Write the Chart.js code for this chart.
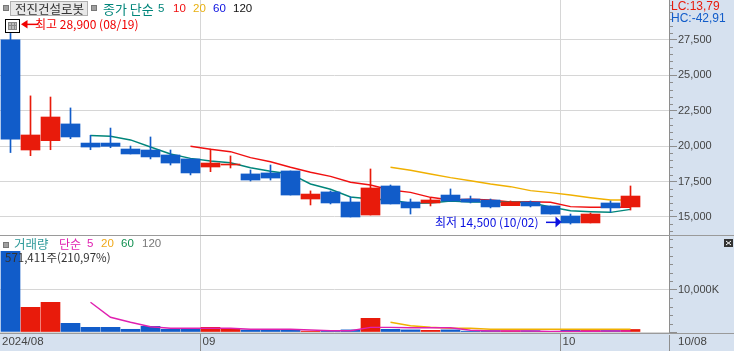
<!DOCTYPE html>
<html lang="ko"><head><meta charset="utf-8">
<style>html,body{margin:0;padding:0;background:#fff;overflow:hidden}canvas{position:absolute;left:0;display:block}</style>
<script src="https://cdn.jsdelivr.net/npm/chart.js@4"></script></head>
<body>
<canvas id="price" width="734" height="236" style="top:0"></canvas>
<canvas id="volume" width="734" height="115" style="top:236px"></canvas>
<script>
const dates=['08/19','08/20','08/21','08/22','08/23','08/26','08/27','08/28','08/29','08/30','09/02','09/03','09/04','09/05','09/06','09/09','09/10','09/11','09/12','09/13','09/19','09/20','09/23','09/24','09/25','09/26','09/27','09/30','10/02','10/04','10/07','10/08'];
const opens =[27500,19730,20390,21570,20220,20220,19800,19730,19380,19100,18530,18670,18040,18110,18250,16270,16770,16060,15140,17190,16060,15990,16550,16270,16200,15800,16060,15780,15070,14580,15990,15710];
const closes=[20500,20790,22060,20650,19940,19990,19450,19240,18810,18110,18810,18740,17610,17750,16550,16620,15990,15000,17050,15920,15640,16200,16130,16060,15710,16060,15780,15210,14580,15210,15640,16480];
const highs =[28900,23550,23470,22700,20770,21280,20010,20650,19730,19100,19800,19310,18320,18670,18250,16840,16840,16410,18390,17260,16270,16340,16980,16480,16270,16130,16130,15780,15210,15280,16130,17190];
const lows  =[19550,19330,19750,20530,19750,19890,19450,19100,18670,17970,18200,18460,17540,17610,16550,15850,15920,15000,15140,15920,15210,15780,16130,15990,15640,15800,15710,15210,14500,14580,15350,15490];
const ma5Start=4;
const ma5=[20750,20700,20440,19940,19450,19140,18950,18830,18480,18230,18040,17330,16960,16410,16270,16200,15970,15990,16130,16060,16060,16060,16010,15710,15440,15370,15330,15540];
const ma10Start=9;
const ma10=[19990,19780,19610,19190,18900,18510,18160,17870,17450,17260,16910,16740,16390,16200,16250,16200,16060,16080,16040,15730,15690,15690,15690];
const ma20Start=19;
const ma20=[18510,18300,18040,17780,17560,17330,17140,16860,16720,16550,16360,16200,16200];
const volumes=[19030,5824,7003,2051,1108,1108,637,1344,637,800,1108,800,470,470,400,200,280,500,3230,640,500,400,500,200,330,300,300,150,500,350,350,600];
const volMa5Start=4;
const volMa5=[7000,3470,2290,1250,870,870,870,870,640,640,640,470,300,300,1100,1100,1010,1010,1010,400,240,240,240,120,170,170,240,240];
const volMa20Start=19;
const volMa20=[2290,1490,1110,870,870,640,640,640,640,640,640,640,640];
const priceMajor=2500, priceMinor=500, priceTop=27500, volMajor=10000, volMinor=2000, volTop=10000;
const monthTicks=[{value:-0.525,label:'2024/08'},{value:9.5,label:'09'},{value:27.5,label:'10'},{value:33.275,label:'10/08'}];
const hiIndex=0, loIndex=28, hiValue=28900, loValue=14500;

const BLUE='#115cc9',RED='#e81b0b',GRID='#d6d6d6',AXIS='#8e8e8e',PANEL='#d6e1ef',TICK='#444';
const NUM='"Liberation Sans",sans-serif', KR='"Noto Sans CJK KR","Noto Sans",sans-serif';
const xMin=-0.525,xMax=32.925;
const pts=(start,arr)=>arr.map((y,i)=>({x:start+i,y}));
const line=(start,arr,color,order)=>({type:'line',data:pts(start,arr),borderColor:color,borderWidth:1.4,pointRadius:0,tension:0,order});
const colors=opens.map((o,i)=>closes[i]>=o?RED:BLUE);
const text=(c,s,x,y,color,font)=>{c.font=font;c.fillStyle=color;c.textAlign='left';c.textBaseline='middle';c.fillText(s,x,y);};
const square=(c,x,y)=>{c.fillStyle='#a0a0a0';c.strokeStyle='#777';c.lineWidth=1;c.fillRect(x,y,6,6);c.strokeRect(x+.5,y+.5,5,5);};
const noPad=s=>{s.paddingTop=0;s.paddingBottom=0;s.paddingLeft=0;s.paddingRight=0;};
const xScale=(showTicks)=>({type:'linear',min:xMin,max:xMax,offset:false,bounds:'data',
  afterBuildTicks:s=>{s.ticks=monthTicks.map(t=>({value:t.value}));},
  afterFit:s=>{s.height=showTicks?19:0;noPad(s);},
  border:{display:false},
  grid:{offset:false,drawTicks:false,color:c=>(c.tick&&(c.tick.value===9.5||c.tick.value===27.5))?GRID:'transparent'},
  ticks:{display:showTicks,autoSkip:false,maxRotation:0,align:'start',labelOffset:2,padding:3,color:TICK,font:{family:NUM,size:11.5},
    callback:v=>(monthTicks.find(t=>t.value===v)||{}).label||''}});
const yScale=(min,max,step,major,top,fmt)=>({type:'linear',position:'right',min,max,bounds:'data',
  afterBuildTicks:s=>{const t=[];for(let v=Math.ceil(min/step)*step;v<=max;v+=step)t.push({value:v});s.ticks=t;},
  afterFit:s=>{s.width=65;noPad(s);},
  border:{color:AXIS,width:1},
  grid:{tickLength:8,color:c=>(c.tick&&c.tick.value%major===0&&c.tick.value<=top)?GRID:'transparent',tickColor:c=>(c.tick&&c.tick.value%major===0&&c.tick.value<=top)?AXIS:'transparent'},
  ticks:{autoSkip:false,padding:1,color:TICK,font:{family:NUM,size:11},
    callback:v=>(v%major===0&&v>0&&v<=top)?fmt(v):''}});
const minorTicks=(chart,major,top)=>{const y=chart.scales.y,c=chart.ctx;c.strokeStyle=AXIS;c.lineWidth=1;c.beginPath();
  y.ticks.forEach(t=>{if(t.value%major!==0||t.value>top){const p=Math.round(y.getPixelForValue(t.value))+.5;c.moveTo(669,p);c.lineTo(673,p);}});c.stroke();};
const panelBg=(chart,band)=>{const c=chart.ctx;c.fillStyle='#fff';c.fillRect(0,0,734,chart.height);c.fillStyle=PANEL;c.fillRect(670,0,64,chart.height);if(band){c.fillRect(0,98,734,17);}};
const base=(scales)=>({responsive:false,animation:false,devicePixelRatio:1,events:[],
  layout:{padding:0},plugins:{legend:{display:false},tooltip:{enabled:false}},scales});
const bars=(lo,hi,order,max)=>({type:'bar',data:lo.map((v,i)=>({x:i,y:[v,hi[i]]})),backgroundColor:colors,borderWidth:0,grouped:false,barPercentage:1,categoryPercentage:1,maxBarThickness:max,order});

const pricePlugin={id:'pricePanel',
  beforeDraw(ch){panelBg(ch,false);},
  afterDraw(ch){const c=ch.ctx,x=ch.scales.x,y=ch.scales.y;
    minorTicks(ch,priceMajor,priceTop);
    c.fillStyle='#9a9a9a';c.fillRect(0,235,734,1);
    square(c,3,5);c.fillStyle='#e8e8e8';c.fillRect(10,1,78,15);c.strokeStyle='#b0b0b0';c.lineWidth=1;c.strokeRect(10.5,1.5,77,14);
    text(c,'전진건설로봇',15,9,'#333','12.5px '+KR);square(c,91,5);
    text(c,'종가 단순',103,9,'#00857a','13px '+KR);text(c,'5',158,9,'#00857a','11.5px '+NUM);
    text(c,'10',173,9,'#f01010','11.5px '+NUM);text(c,'20',193,9,'#e8b010','11.5px '+NUM);text(c,'60',213,9,'#0a10e0','11.5px '+NUM);text(c,'120',233,9,'#111','11.5px '+NUM);
    text(c,'LC:13,79',671,7,'#e81b0b','12px '+NUM);text(c,'HC:-42,91',671,19,'#115cc9','12px '+NUM);
    // high marker
    const hx=x.getPixelForValue(hiIndex),hy=y.getPixelForValue(hiValue);
    c.fillStyle='#fff';c.fillRect(5,hy-1,15,14);c.strokeStyle='#000';c.strokeRect(5.5,Math.round(hy)-.5,14,13);
    const iy=Math.round(hy);c.strokeStyle='#888';c.fillStyle='#bbb';c.fillRect(8,iy+2,9,8);c.strokeRect(8.5,iy+2.5,8,7);c.beginPath();c.moveTo(11.5,iy+2);c.lineTo(11.5,iy+10);c.moveTo(14.5,iy+2);c.lineTo(14.5,iy+10);c.moveTo(8,iy+5.5);c.lineTo(17,iy+5.5);c.stroke();
    c.fillStyle='#f00000';c.fillRect(hx+16,hy+3.5,12,1.5);c.beginPath();c.moveTo(hx+10.5,hy+4.2);c.lineTo(hx+17,hy);c.lineTo(hx+17,hy+8.5);c.fill();
    text(c,'최고 28,900 (08/19)',35,hy+4,'#f00000','12px '+KR);
    // low marker
    const lx=x.getPixelForValue(loIndex),ly=y.getPixelForValue(loValue)-2;
    text(c,'최저 14,500 (10/02)',435,ly,'#0a10e0','12px '+KR);
    c.fillStyle='#0a10e0';c.fillRect(lx-24.5,ly-.5,11,1.5);c.beginPath();c.moveTo(lx-9,ly);c.lineTo(lx-15,ly-5.5);c.lineTo(lx-15,ly+5.5);c.fill();
  }};
const volPlugin={id:'volPanel',
  beforeDraw(ch){panelBg(ch,true);},
  afterDraw(ch){const c=ch.ctx,x=ch.scales.x;
    minorTicks(ch,volMajor,volTop);
    c.fillStyle='#9a9a9a';c.fillRect(0,97,734,1);
    c.fillStyle=AXIS;c.fillRect(669,99,1,16);[9.5,27.5].forEach(v=>c.fillRect(Math.floor(x.getPixelForValue(v)),98,1,17));
    square(c,3,6);
    text(c,'거래량',14,8,'#2f9a9a','12.5px '+KR);text(c,'단순',59,8,'#e020b0','12px '+KR);text(c,'5',87,8,'#e020b0','11.5px '+NUM);
    text(c,'20',101,8,'#f0a818','11.5px '+NUM);text(c,'60',121,8,'#109050','11.5px '+NUM);text(c,'120',142,8,'#777','11.5px '+NUM);
    text(c,'571,411주(210,97%)',5,22,'#333','11.5px '+KR);
    c.fillStyle='#333';c.fillRect(724,3,9,8);c.strokeStyle='#fff';c.beginPath();c.moveTo(726,5);c.lineTo(731,9);c.moveTo(731,5);c.lineTo(726,9);c.stroke();
  }};

Chart.defaults.font.family=NUM;
new Chart(document.getElementById('price'),{data:{datasets:[
  bars(lows,highs,1,1),
  bars(opens,closes,0,19),
  line(ma5Start,ma5,'#00857a',3),
  line(ma10Start,ma10,'#f01010',3),
  line(ma20Start,ma20,'#f0b000',3)
]},options:Object.assign(base({x:xScale(false),y:yScale(13729,30320,priceMinor,priceMajor,priceTop,v=>v.toLocaleString('en-US'))}),{layout:{padding:{bottom:1}}}),plugins:[pricePlugin]});
new Chart(document.getElementById('volume'),{data:{datasets:[
  bars(volumes.map(()=>0),volumes,2,19),
  line(volMa20Start,volMa20,'#f0b000',1),
  line(volMa5Start,volMa5,'#e020b0',0)
]},options:base({x:xScale(true),y:yScale(0,22637,volMinor,volMajor,volTop,v=>v.toLocaleString('en-US')+'K')}),plugins:[volPlugin]});
</script></body></html>
